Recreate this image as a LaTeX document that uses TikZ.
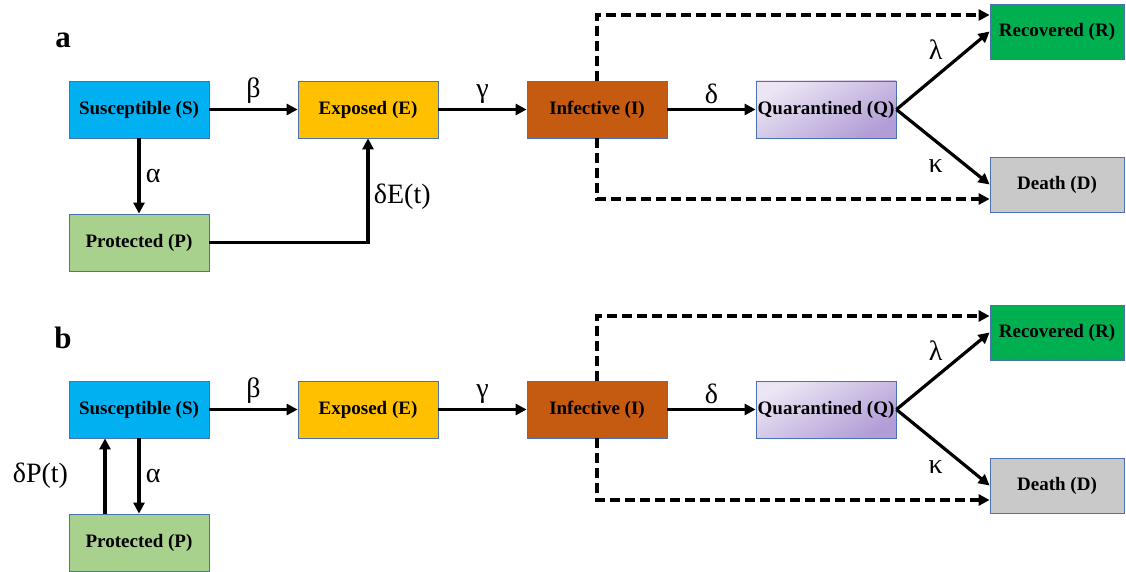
\documentclass[tikz,border=0pt]{standalone}
\usepackage{fontspec}
\setmainfont{Liberation Serif}
\usetikzlibrary{arrows.meta}

\definecolor{suscol}{HTML}{00B0F0}
\definecolor{expcol}{HTML}{FFC000}
\definecolor{infcol}{HTML}{C55A11}
\definecolor{reccol}{HTML}{00B050}
\definecolor{deathcol}{HTML}{C9C9C9}
\definecolor{procol}{HTML}{A9D18E}
\definecolor{qlight}{HTML}{ECE6F4}
\definecolor{qdark}{HTML}{B29DD6}
\definecolor{edgecol}{HTML}{4A72B0}

\begin{document}
\begin{tikzpicture}[x=1pt,y=-1pt,->,>={Triangle[length=11pt,width=11pt]},line width=3.2pt,node distance=229pt]
        \tikzstyle{comp}=[rectangle,draw=edgecol,line width=0.8pt,minimum width=140pt,minimum height=57pt,inner sep=1pt,font=\fontsize{19}{22}\selectfont\bfseries,text=black]
        \tikzstyle{rate}=[font=\fontsize{28}{30}\selectfont]
        \tikzstyle{leak}=[dash pattern=on 10pt off 5pt]
        \useasboundingbox (0,0) rectangle (1126,572);
        % model a
        \node[font=\fontsize{31}{34}\selectfont\bfseries] (la) at (63,40) {a};
        \node[comp,fill=suscol] (sa) at (139,109.5) {Susceptible (S)};
        \node[comp,fill=expcol] (ea) [right of=sa] {Exposed (E)};
        \node[comp,fill=infcol] (ia) [right of=ea] {Infective (I)};
        \node[comp,top color=qlight,bottom color=qdark,shading angle=30] (qa) [right of=ia] {Quarantined (Q)};
        \node[comp,fill=reccol,minimum width=134pt,minimum height=55pt] (ra) at (1057,31.5) {Recovered (R)};
        \node[comp,fill=deathcol,minimum width=134pt,minimum height=55pt] (da) at (1057,184.5) {Death (D)};
        \node[comp,fill=procol] (pa) [below of=sa,node distance=133pt] {Protected (P)};
    \path
        (sa) edge node [rate,above=1pt] {β} (ea)
        (ea) edge node [rate,above=1pt] {γ} (ia)
        (ia) edge node [rate,above=1pt] {δ} (qa)
        (qa.east) edge node [rate,pos=0.42,above=12pt] {λ} (ra.west)
        (qa.east) edge node [rate,pos=0.42,below=14pt] {κ} (da.west)
        (sa) edge node [rate,right=2pt] {α} (pa);
    \draw (pa) -| node [rate,pos=0.72,right=1pt] {δE(t)} (ea);
    \draw[leak] (ia.north) |- ([yshift=16.5pt]ra.west);
    \draw[leak] (ia.south) |- ([yshift=-14.5pt]da.west);
        % model b
        \node[font=\fontsize{31}{34}\selectfont\bfseries] (lb) at (63,338) {b};
        \node[comp,fill=suscol] (sb) at (139,409.5) {Susceptible (S)};
        \node[comp,fill=expcol] (eb) [right of=sb] {Exposed (E)};
        \node[comp,fill=infcol] (ib) [right of=eb] {Infective (I)};
        \node[comp,top color=qlight,bottom color=qdark,shading angle=30] (qb) [right of=ib] {Quarantined (Q)};
        \node[comp,fill=reccol,minimum width=134pt,minimum height=55pt] (rb) at (1057,332.5) {Recovered (R)};
        \node[comp,fill=deathcol,minimum width=134pt,minimum height=55pt] (db) at (1057,485.5) {Death (D)};
        \node[comp,fill=procol] (pb) [below of=sb,node distance=133pt] {Protected (P)};
    \path
        (sb) edge node [rate,above=1pt] {β} (eb)
        (eb) edge node [rate,above=1pt] {γ} (ib)
        (ib) edge node [rate,above=1pt] {δ} (qb)
        (qb.east) edge node [rate,pos=0.42,above=12pt] {λ} (rb.west)
        (qb.east) edge node [rate,pos=0.42,below=14pt] {κ} (db.west)
        (sb.south) edge node [rate,right=2pt] {α} (pb.north)
        ([xshift=-34pt]pb.north) edge node [rate,left=32pt] {δP(t)} ([xshift=-34pt]sb.south);
    \draw[leak] (ib.north) |- ([yshift=16.5pt]rb.west);
    \draw[leak] (ib.south) |- ([yshift=-14.5pt]db.west);
\end{tikzpicture}
\end{document}
